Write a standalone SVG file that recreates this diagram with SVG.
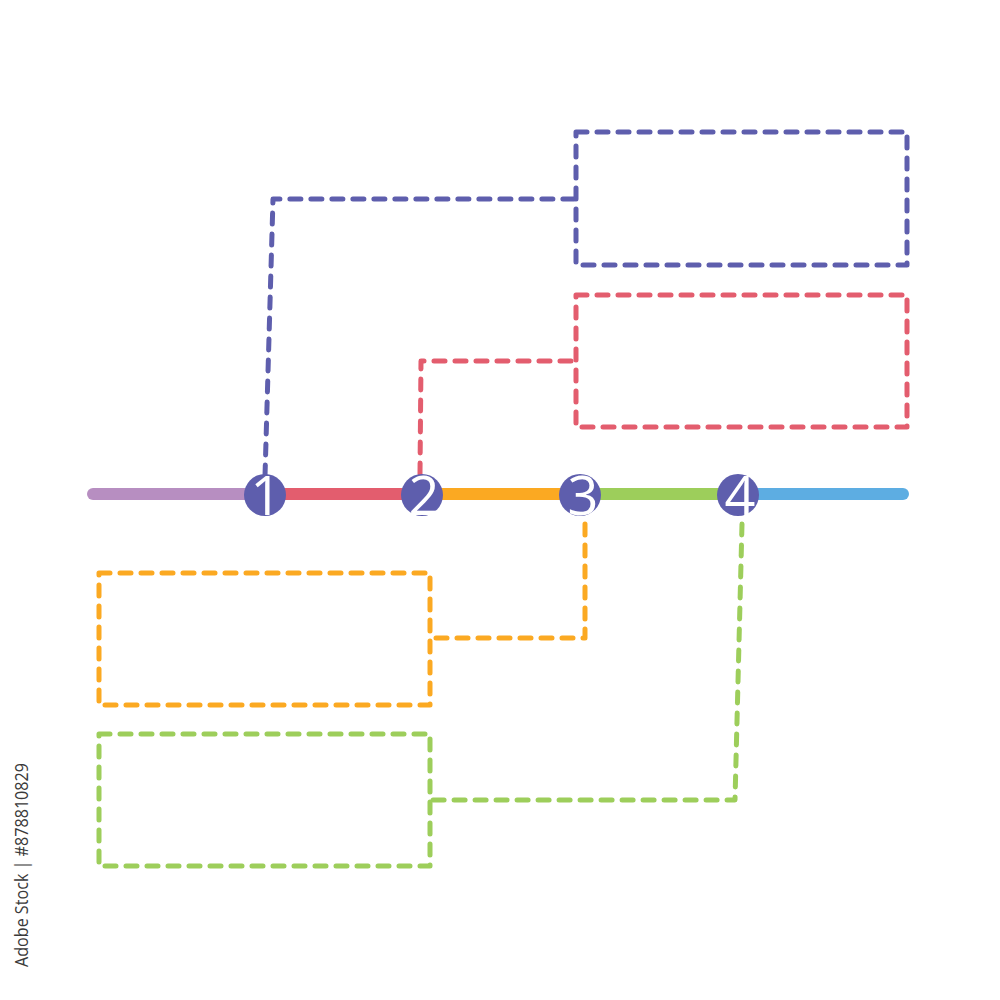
<svg xmlns="http://www.w3.org/2000/svg" width="1000" height="1000" viewBox="0 0 1000 1000">
<style>
.d{fill:none;stroke-width:5;stroke-dasharray:11 10;stroke-linecap:round;stroke-linejoin:round}
.p{stroke:#5E5EAD}.r{stroke:#E35D6E}.o{stroke:#FBA922}.g{stroke:#9DCE5B}
.seg{stroke-width:12;stroke-linecap:round;fill:none}
.c{fill:#5E5EAD}
.n{font-family:"Open Sans","Liberation Sans",sans-serif;font-weight:400;font-size:54px;fill:#fff;text-anchor:middle}
</style>
<rect width="1000" height="1000" fill="#fff"/>
<g id="timeline">
<line class="seg" x1="93" y1="494" x2="264" y2="494" stroke="#B78EC1"/>
<line class="seg" x1="903" y1="494" x2="738" y2="494" stroke="#5DADE2"/>
<line class="seg" x1="264" y1="494" x2="422" y2="494" stroke="#E35D6E" stroke-linecap="butt"/>
<line class="seg" x1="422" y1="494" x2="580" y2="494" stroke="#FBA922" stroke-linecap="butt"/>
<line class="seg" x1="580" y1="494" x2="738" y2="494" stroke="#9DCE5B" stroke-linecap="butt"/>
</g>
<g id="connectors">
<polyline class="d p" points="265,476 273,199 576,199"/>
<polyline class="d r" points="420,474 421,361 576,361"/>
<polyline class="d o" points="585,524 585,638 430,638"/>
<polyline class="d g" points="742,524 735,800 430,800"/>
</g>
<g id="node1"><circle class="c" cx="265" cy="495" r="21"/><text class="n" x="266" y="515">1</text></g>
<g id="node2"><circle class="c" cx="422" cy="495" r="21"/><text class="n" x="424" y="515">2</text></g>
<g id="node3"><circle class="c" cx="580" cy="495" r="21"/><text class="n" x="583" y="515">3</text></g>
<g id="node4"><circle class="c" cx="738" cy="495" r="21"/><text class="n" x="740" y="515">4</text></g>
<g id="box1"><rect class="d p" x="576" y="132" width="331" height="133"/></g>
<g id="box2"><rect class="d r" x="576" y="295" width="331" height="132"/></g>
<g id="box3"><rect class="d o" x="99" y="573" width="331" height="132"/></g>
<g id="box4"><rect class="d g" x="99" y="734" width="331" height="132"/></g>
<text transform="translate(28,967) rotate(-90)" font-family="'Open Sans','Liberation Sans',sans-serif" font-size="18" fill="#3a3a3a" textLength="204" lengthAdjust="spacingAndGlyphs">Adobe Stock | #878810829</text>
</svg>
